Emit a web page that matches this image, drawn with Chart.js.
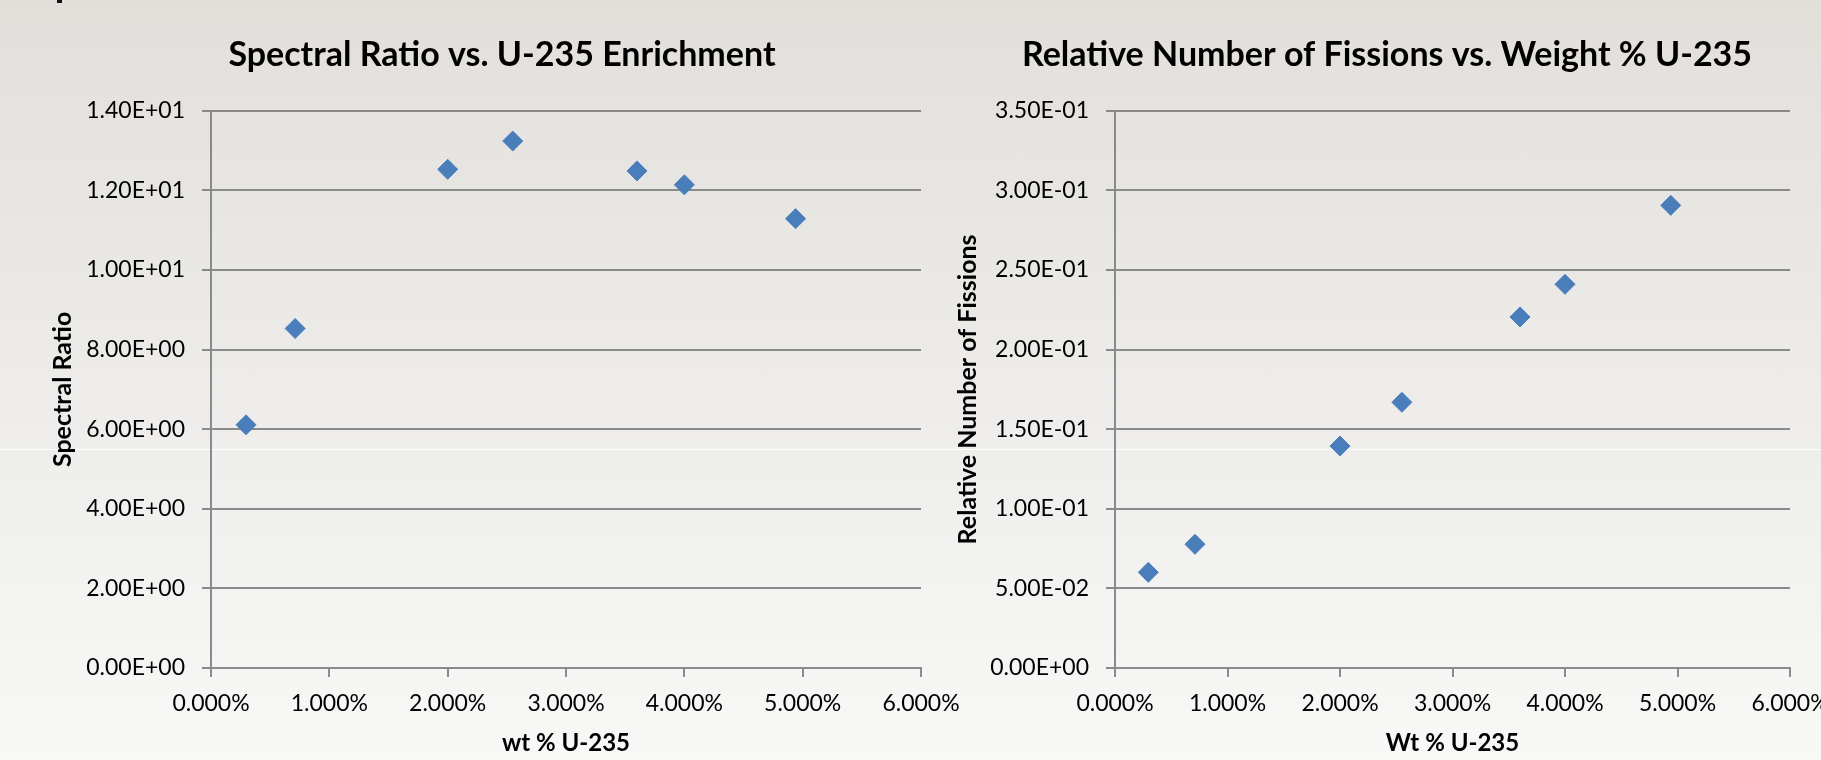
<!DOCTYPE html>
<html>
<head>
<meta charset="utf-8">
<script src="https://cdn.jsdelivr.net/npm/chart.js@4/dist/chart.umd.min.js"></script>
<style>
    html, body {
        margin: 0;
        padding: 0;
        width: 1821px;
        height: 760px;
        overflow: hidden;
        background: linear-gradient(to bottom, #e2dfdb 0%, #eeedeb 55%, #f8f8f7 100%);
        position: relative;
    }
    canvas {
        position: absolute;
        top: 0;
    }
    #spectral-chart { left: 0; }
    #fission-chart { left: 953px; }
    .band {
        position: absolute;
        left: 0;
        top: 449px;
        width: 1821px;
        height: 1px;
        background: rgba(255, 255, 255, 0.9);
    }
    .corner {
        position: absolute;
        left: 57px;
        top: 0;
        width: 5px;
        height: 3px;
        background: #111;
    }
</style>
</head>
<body>
<div class="band"></div>
<div class="corner"></div>
<canvas id="spectral-chart" width="1004" height="760"></canvas>
<canvas id="fission-chart" width="868" height="760"></canvas>
<script>
// U-235 enrichment, wt % (same x for both charts)
const wtPercent = [0.296, 0.711, 2.0, 2.55, 3.6, 4.0, 4.94];
// left chart
const spectralRatio = [6.11, 8.53, 12.53, 13.24, 12.49, 12.14, 11.29];
// right chart
const relFissions = [0.0601, 0.0777, 0.1394, 0.1669, 0.2205, 0.241, 0.2906];

const xTicks = [0, 1, 2, 3, 4, 5, 6];
const spectralTicks = [0, 2, 4, 6, 8, 10, 12, 14];
const fissionTicks = [0, 0.05, 0.1, 0.15, 0.2, 0.25, 0.3, 0.35];

const FONT = 'Lato, "Open Sans", sans-serif';
const GRID = '#8a8a8a';
const MARKER = '#4a7ebb';

// Excel style 1.40E+01
function sci(v) {
    if (Math.abs(v) < 1e-12) return '0.00E+00';
    let e = Math.floor(Math.log10(Math.abs(v)));
    let m = v / Math.pow(10, e);
    if (Number(m.toFixed(2)) >= 10) { m /= 10; e += 1; }
    return m.toFixed(2) + 'E' + (e < 0 ? '-' : '+') + String(Math.abs(e)).padStart(2, '0');
}

function makeChart(id, opts) {
    const points = wtPercent.map((x, i) => ({ x: x, y: opts.values[i] }));
    const yt = opts.yTicks;
    return new Chart(document.getElementById(id), {
        type: 'scatter',
        data: {
            datasets: [{
                data: points,
                pointStyle: 'rectRot',
                pointRadius: 10,
                pointHoverRadius: 10,
                backgroundColor: MARKER,
                borderColor: MARKER,
                borderWidth: 1
            }]
        },
        options: {
            responsive: false,
            animation: false,
            events: [],
            layout: { padding: 0 },
            plugins: {
                legend: { display: false },
                tooltip: { enabled: false },
                title: {
                    display: true,
                    text: opts.title,
                    color: '#000',
                    font: { family: FONT, size: 34, weight: 'bold' },
                    padding: { top: 35, bottom: 35 }
                }
            },
            scales: {
                x: {
                    type: 'linear',
                    min: xTicks[0],
                    max: xTicks[xTicks.length - 1],
                    afterBuildTicks: s => { s.ticks = xTicks.map(v => ({ value: v })); },
                    ticks: {
                        color: '#000',
                        font: { family: FONT, size: 23 },
                        padding: 13,
                        maxRotation: 0,
                        callback: v => v.toFixed(3) + '%'
                    },
                    grid: {
                        drawOnChartArea: false,
                        drawTicks: true,
                        tickLength: 9,
                        color: GRID,
                        lineWidth: 2
                    },
                    border: { color: GRID, width: 2 },
                    title: {
                        display: true,
                        text: opts.xTitle,
                        color: '#000',
                        font: { family: FONT, size: 24, weight: 'bold' },
                        padding: { top: 0, bottom: 2 }
                    },
                    afterFit: s => {
                        s.height = 92;
                        s.paddingLeft = 0;
                        s.paddingRight = 0;
                    }
                },
                y: {
                    type: 'linear',
                    min: yt[0],
                    max: yt[yt.length - 1],
                    afterBuildTicks: s => { s.ticks = yt.map(v => ({ value: v })); },
                    ticks: {
                        color: '#000',
                        font: { family: FONT, size: 23 },
                        padding: 17,
                        callback: v => sci(v)
                    },
                    grid: {
                        drawTicks: true,
                        tickLength: 9,
                        color: GRID,
                        lineWidth: 2
                    },
                    border: { color: GRID, width: 2 },
                    title: {
                        display: true,
                        text: opts.yTitle,
                        color: '#000',
                        font: { family: FONT, size: 25, weight: 'bold' },
                        padding: { top: opts.yTitlePad, bottom: 0 }
                    },
                    afterFit: s => { s.width = opts.yAxisWidth; }
                },
                // empty right gutter so the title centres like the original
                gutter: {
                    type: 'linear',
                    position: 'right',
                    display: true,
                    grid: { display: false },
                    border: { display: false },
                    ticks: { display: false },
                    afterFit: s => { s.width = opts.rightGutter; }
                }
            }
        }
    });
}

makeChart('spectral-chart', {
    title: 'Spectral Ratio vs. U-235 Enrichment',
    xTitle: 'wt % U-235',
    yTitle: 'Spectral Ratio',
    values: spectralRatio,
    yTicks: spectralTicks,
    yAxisWidth: 211,
    yTitlePad: 48,
    rightGutter: 83
});

makeChart('fission-chart', {
    title: 'Relative Number of Fissions vs. Weight % U-235',
    xTitle: 'Wt % U-235',
    yTitle: 'Relative Number of Fissions',
    values: relFissions,
    yTicks: fissionTicks,
    yAxisWidth: 162,
    yTitlePad: 0,
    rightGutter: 31
});
</script>
</body>
</html>
